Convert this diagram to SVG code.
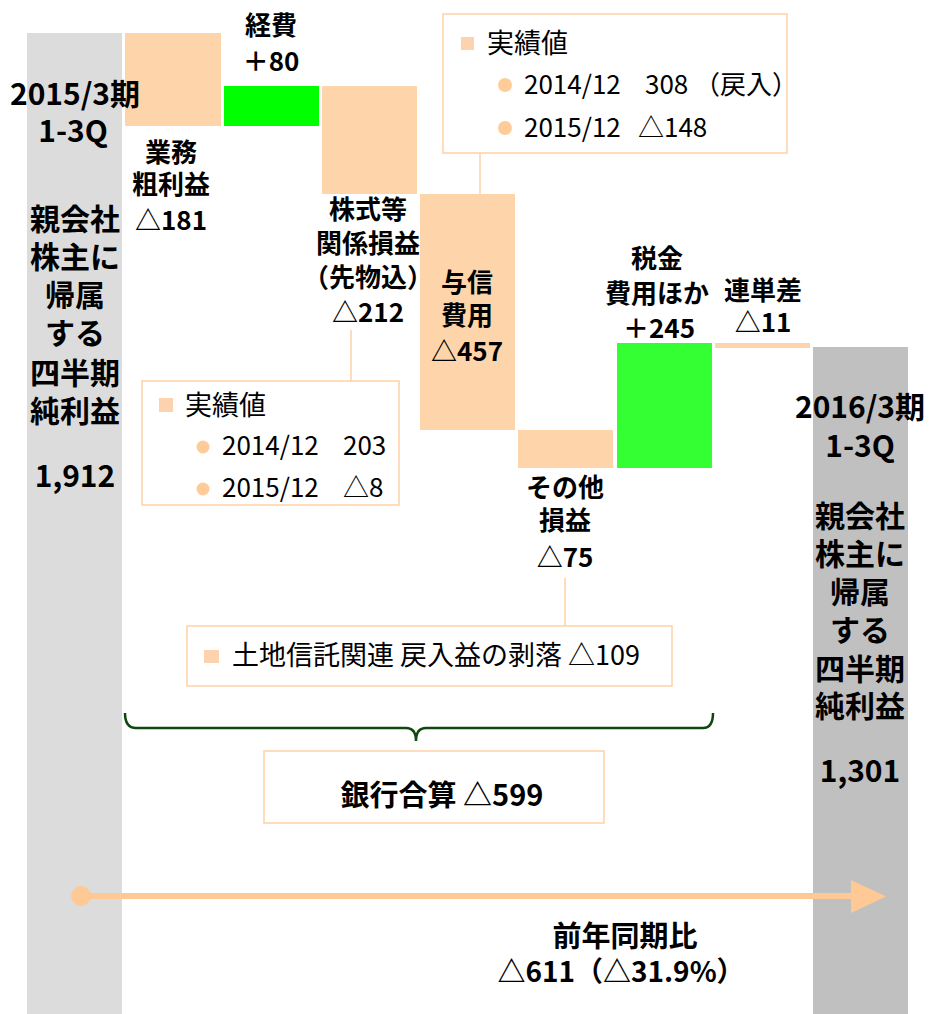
<svg xmlns="http://www.w3.org/2000/svg" width="929" height="1014" viewBox="0 0 929 1014">
<defs>
<style>
text { font-family: "Noto Sans CJK JP", "Noto Sans CJK SC", sans-serif; fill: #000; }
.lb { font-size: 26px; font-weight: bold; text-anchor: middle; }
.side { font-size: 30px; font-weight: bold; text-anchor: middle; }
.big { font-size: 29px; font-weight: bold; text-anchor: middle; }
.lgh { font-size: 27px; }
.lgi { font-size: 26px; }
.peach { fill: #fed5aa; }
.note { fill: #fff; stroke: #ffd2a6; stroke-width: 1.5; }
.sq { fill: #fdd2ae; }
.dot { fill: #ffcc99; }
.lead { stroke: #ffd2a6; stroke-width: 1.5; fill: none; }
</style>
</defs>
<rect width="929" height="1014" fill="#fff"/>

<g id="gross-profit">
<rect class="peach" x="125" y="33" width="96" height="93"/>
<text class="lb"><tspan x="171" y="162">業務</tspan><tspan x="171" y="194">粗利益</tspan><tspan x="171" y="230">△181</tspan></text>
</g>

<g id="start">
<rect x="27" y="33" width="95" height="981" fill="#dcdcdc"/>
<text class="side"><tspan x="75" y="105">2015/3期</tspan><tspan x="73" y="142">1-3Q</tspan></text>
<text class="side"><tspan x="75" y="230">親会社</tspan><tspan x="75" y="268">株主に</tspan><tspan x="75" y="306">帰属</tspan><tspan x="75" y="344">する</tspan><tspan x="75" y="384">四半期</tspan><tspan x="75" y="422">純利益</tspan></text>
<text class="side" x="75" y="487">1,912</text>
</g>

<g id="end">
<rect x="813" y="347" width="95" height="667" fill="#c0c0c0"/>
<text class="side"><tspan x="860" y="418">2016/3期</tspan><tspan x="860" y="457">1-3Q</tspan></text>
<text class="side"><tspan x="860" y="527">親会社</tspan><tspan x="860" y="565">株主に</tspan><tspan x="860" y="603">帰属</tspan><tspan x="860" y="641">する</tspan><tspan x="860" y="680">四半期</tspan><tspan x="860" y="717">純利益</tspan></text>
<text class="side" x="860" y="782">1,301</text>
</g>

<g id="expenses">
<rect x="224" y="86" width="95" height="40" fill="#00ff00"/>
<text class="lb"><tspan x="271" y="35">経費</tspan><tspan x="271" y="71">＋80</tspan></text>
</g>

<g id="stock-gains">
<rect class="peach" x="322" y="86" width="95" height="108"/>
<text class="lb"><tspan x="368" y="219">株式等</tspan><tspan x="368" y="253">関係損益</tspan><tspan x="368" y="287">（先物込）</tspan><tspan x="368" y="322">△212</tspan></text>
</g>

<g id="credit-cost">
<rect class="peach" x="420" y="194" width="95" height="236"/>
<text class="lb"><tspan x="467" y="292">与信</tspan><tspan x="467" y="325">費用</tspan><tspan x="467" y="361">△457</tspan></text>
</g>

<g id="other">
<rect class="peach" x="518" y="430" width="95" height="38"/>
<text class="lb"><tspan x="565" y="497">その他</tspan><tspan x="565" y="530">損益</tspan><tspan x="565" y="567">△75</tspan></text>
</g>

<g id="tax">
<rect x="617" y="343" width="95" height="125" fill="#33ff33"/>
<text class="lb"><tspan x="657" y="268">税金</tspan><tspan x="657" y="303">費用ほか</tspan><tspan x="659" y="338">＋245</tspan></text>
</g>

<g id="consolidation">
<rect class="peach" x="715" y="343" width="95" height="5"/>
<text class="lb"><tspan x="763" y="300">連単差</tspan><tspan x="763" y="332">△11</tspan></text>
</g>

<g id="note-credit">
<rect class="note" x="443" y="14" width="344" height="139"/>
<rect class="sq" x="461" y="37" width="13" height="13"/>
<text class="lgh" x="487" y="53">実績値</text>
<circle class="dot" cx="505" cy="85" r="7"/>
<text class="lgi" x="524" y="94">2014/12<tspan x="645">308</tspan><tspan x="694">（戻入）</tspan></text>
<circle class="dot" cx="505" cy="128" r="7"/>
<text class="lgi" x="524" y="137">2015/12<tspan x="638">△148</tspan></text>
</g>

<g id="note-stock">
<rect class="note" x="142" y="381" width="257" height="124"/>
<rect class="sq" x="159" y="398" width="14" height="14"/>
<text class="lgh" x="185" y="415">実績値</text>
<circle class="dot" cx="203" cy="447" r="6.5"/>
<text class="lgi" x="222" y="455">2014/12<tspan x="343">203</tspan></text>
<circle class="dot" cx="203" cy="489" r="6.5"/>
<text class="lgi" x="222" y="497">2015/12<tspan x="343">△8</tspan></text>
</g>

<g id="note-other">
<rect class="note" x="187" y="626" width="485" height="60"/>
<rect class="sq" x="204" y="650" width="15" height="13"/>
<text class="lgh" x="232" y="665">土地信託関連 戻入益の剥落 △109</text>
</g>

<g id="bank-total">
<rect class="note" x="264" y="751" width="340" height="72"/>
<text class="big" x="442" y="806">銀行合算 △599</text>
</g>

<g id="yoy">
<text class="big"><tspan x="625" y="947">前年同期比</tspan><tspan x="621" y="982" font-size="28px">△611（△31.9%）</tspan></text>
</g>

<g id="connectors">
<line class="lead" x1="480" y1="153" x2="480" y2="194"/>
<line class="lead" x1="351" y1="330" x2="351" y2="381"/>
<line class="lead" x1="565" y1="578" x2="565" y2="626"/>
<path d="M125,713 Q125,728 136,728 H406 Q416,728 416,741 Q416,728 426,728 H703 Q713,728 713,713" fill="none" stroke="#0f470f" stroke-width="2.5"/>
<line x1="81" y1="896" x2="853" y2="896" stroke="#ffc996" stroke-width="6"/>
<circle cx="81" cy="896" r="10" fill="#ffc996"/>
<polygon points="851,880 886,896.5 851,913" fill="#ffc996"/>
</g>
</svg>
